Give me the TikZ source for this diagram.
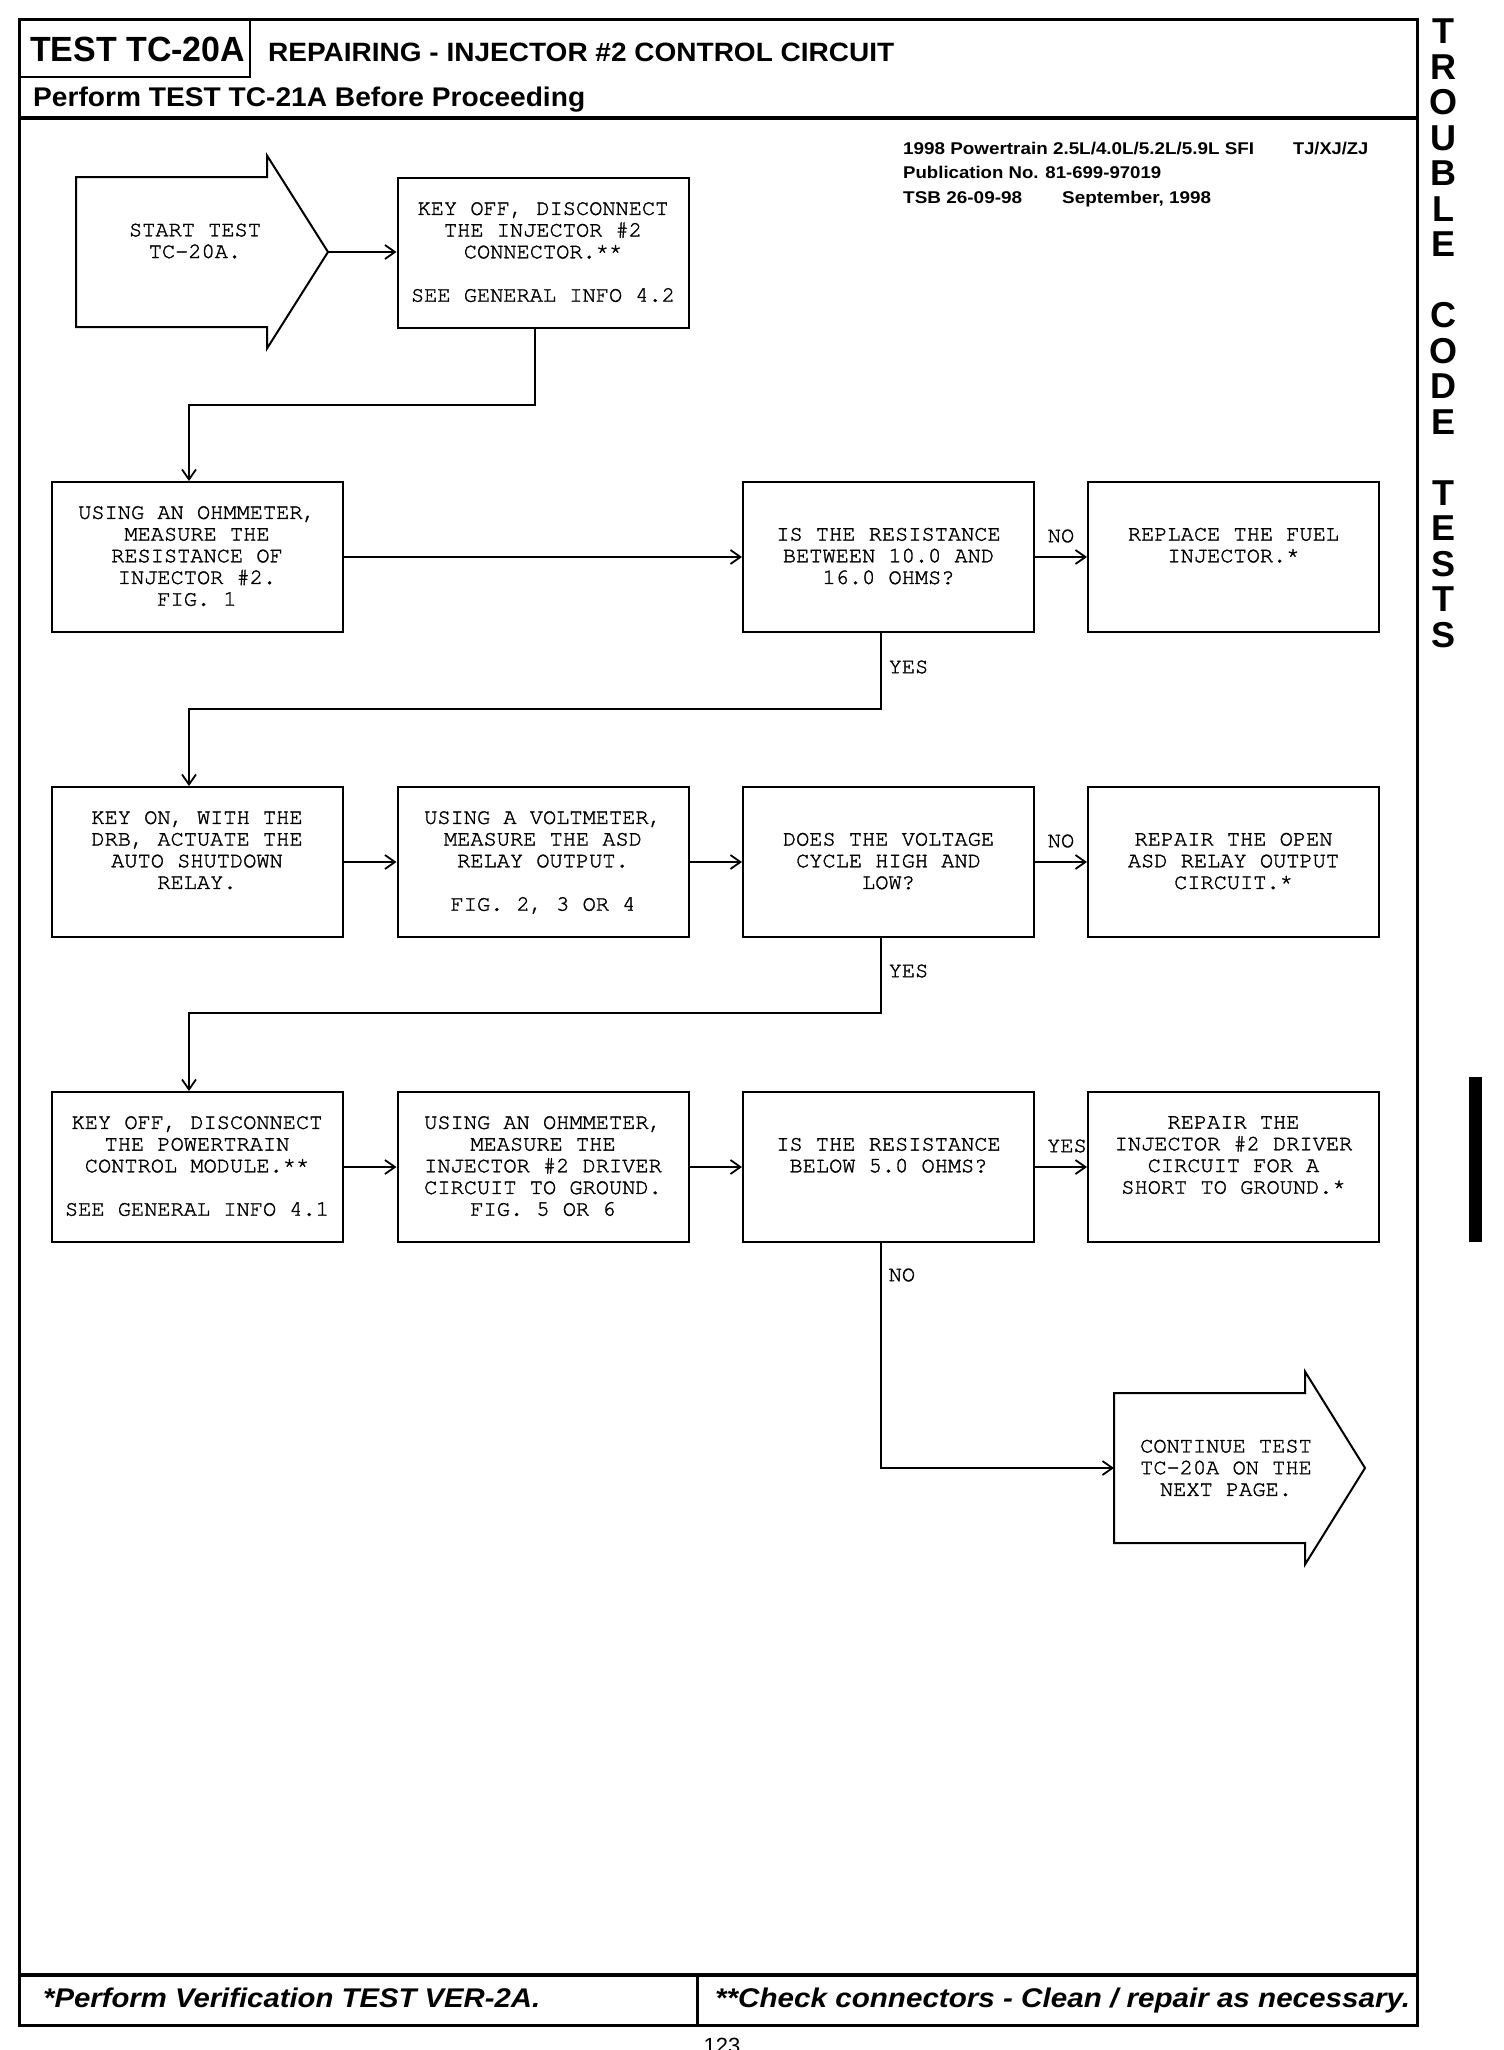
\documentclass[tikz,border=0pt]{standalone}
\usepackage{fontspec}
\usepackage{graphicx}
\setmainfont{Liberation Sans}
\newfontfamily\boxfont[FakeBold=1.5]{texgyrecursor-regular.otf}
\usetikzlibrary{arrows.meta,calc}
\newcommand{\fitw}[2]{\resizebox{#1}{\height}{#2}}
\begin{document}
\begin{tikzpicture}[x=1pt,y=-1pt,
  box/.style={draw, line width=2pt, minimum width=291pt, minimum height=150pt, inner sep=0pt, anchor=north west},
  txt/.style={font=\boxfont\fontsize{22}{21.7}\selectfont, align=center, inner sep=0pt},
  lbl/.style={font=\boxfont\fontsize{22}{21.7}\selectfont, inner sep=0pt},
  arr/.style={line width=1.8pt, -{Straight Barb[length=10pt,width=14pt]}},
  bigarrow/.style={draw, line width=2pt, line join=miter},
  hdr/.style={inner sep=0pt, anchor=base west},
  info/.style={inner sep=0pt, anchor=base west, font=\bfseries\fontsize{17}{17}\selectfont},
  vlet/.style={inner sep=0pt, font=\bfseries\fontsize{36}{36}\selectfont}
]
\useasboundingbox (0,0) rectangle (1504,2050);
\fill[white] (0,0) rectangle (1504,2050);

% page frame and header
\draw[line width=3pt] (19.5,20) rectangle (1417,2025);
\draw[line width=2.5pt] (19.5,77) -- (250,77) -- (250,20);
\draw[line width=4pt] (19.5,118) -- (1417,118);
\draw[line width=4pt] (19.5,1974.5) -- (1417,1974.5);
\draw[line width=2.5pt] (697.5,1974.5) -- (697.5,2025);

\node[hdr, font=\bfseries\fontsize{35}{35}\selectfont] (h1) at (30,61.7) {\fitw{215pt}{TEST TC-20A}};
\node[hdr, font=\bfseries\fontsize{26.5}{26.5}\selectfont] (h2) at (268,61.7) {\fitw{626pt}{REPAIRING - INJECTOR \#2 CONTROL CIRCUIT}};
\node[hdr, font=\bfseries\fontsize{27}{27}\selectfont] (h3) at (33,106) {\fitw{552pt}{Perform TEST TC-21A Before Proceeding}};

\node[info] (i1) at (903,154.5) {\fitw{351pt}{1998 Powertrain 2.5L/4.0L/5.2L/5.9L SFI}};
\node[info] (i2) at (1293,154.5) {\fitw{75pt}{TJ/XJ/ZJ}};
\node[info] (i3) at (903,178.5) {\fitw{258pt}{Publication No. 81-699-97019}};
\node[info] (i4) at (903,203) {\fitw{119pt}{TSB 26-09-98}};
\node[info] (i5) at (1062,203) {\fitw{149pt}{September, 1998}};

\node[hdr, font=\bfseries\itshape\fontsize{27}{27}\selectfont] (f1) at (43,2007) {\fitw{497pt}{*Perform Verification TEST VER-2A.}};
\node[hdr, font=\bfseries\itshape\fontsize{27}{27}\selectfont] (f2) at (715,2007) {\fitw{695pt}{**Check connectors - Clean / repair as necessary.}};
\node[inner sep=0pt, anchor=north, font=\fontsize{22}{22}\selectfont] (pg) at (722,2038) {123};

% side tab text
\foreach \l/\yy [count=\i] in {T/31,R/67,O/102.5,U/138,B/173.5,L/209,E/244.5,C/315.5,O/351,D/386.5,E/422,T/493,E/528.5,S/564,T/599.5,S/635}
  \node[vlet] (v\i) at (1443,\yy) {\l};
\fill (1469,1077) rectangle (1482,1242);

% start arrow
\draw[bigarrow] (76,177) -- (267,177) -- (267,155.5) -- (328,252) -- (267,348.5) -- (267,327) -- (76,327) -- cycle;
\coordinate (starttip) at (328,252);
\node[txt] (st) at (195,241) {START TEST\\TC-20A.};

% boxes
\node[box] (b1) at (396.5,177) {};
\node[box] (b2) at (50.5,481) {};
\node[box] (b3) at (742,481) {};
\node[box] (b4) at (1087,481) {};
\node[box] (b5) at (50.5,786) {};
\node[box] (b6) at (396.5,786) {};
\node[box] (b7) at (742,786) {};
\node[box] (b8) at (1087,786) {};
\node[box] (b9) at (50.5,1091) {};
\node[box] (b10) at (396.5,1091) {};
\node[box] (b11) at (742,1091) {};
\node[box] (b12) at (1087,1091) {};

\node[txt, anchor=north] (t1) at ([yshift=-25pt]b1.north) {KEY OFF, DISCONNECT\\THE INJECTOR \#2\\CONNECTOR.**\\[21.7pt]SEE GENERAL INFO 4.2};
\node[txt, anchor=north] (t2) at ([yshift=-25pt]b2.north) {USING AN OHMMETER,\\MEASURE THE\\RESISTANCE OF\\INJECTOR \#2.\\FIG. 1};
\node[txt, anchor=north] (t3) at ([yshift=-46.7pt]b3.north) {IS THE RESISTANCE\\BETWEEN 10.0 AND\\16.0 OHMS?};
\node[txt, anchor=north] (t4) at ([yshift=-46.7pt]b4.north) {REPLACE THE FUEL\\INJECTOR.*};
\node[txt, anchor=north] (t5) at ([yshift=-25pt]b5.north) {KEY ON, WITH THE\\DRB, ACTUATE THE\\AUTO SHUTDOWN\\RELAY.};
\node[txt, anchor=north] (t6) at ([yshift=-25pt]b6.north) {USING A VOLTMETER,\\MEASURE THE ASD\\RELAY OUTPUT.\\[21.7pt]FIG. 2, 3 OR 4};
\node[txt, anchor=north] (t7) at ([yshift=-46.7pt]b7.north) {DOES THE VOLTAGE\\CYCLE HIGH AND\\LOW?};
\node[txt, anchor=north] (t8) at ([yshift=-46.7pt]b8.north) {REPAIR THE OPEN\\ASD RELAY OUTPUT\\CIRCUIT.*};
\node[txt, anchor=north] (t9) at ([yshift=-25pt]b9.north) {KEY OFF, DISCONNECT\\THE POWERTRAIN\\CONTROL MODULE.**\\[21.7pt]SEE GENERAL INFO 4.1};
\node[txt, anchor=north] (t10) at ([yshift=-25pt]b10.north) {USING AN OHMMETER,\\MEASURE THE\\INJECTOR \#2 DRIVER\\CIRCUIT TO GROUND.\\FIG. 5 OR 6};
\node[txt, anchor=north] (t11) at ([yshift=-46.7pt]b11.north) {IS THE RESISTANCE\\BELOW 5.0 OHMS?};
\node[txt, anchor=north] (t12) at ([yshift=-25pt]b12.north) {REPAIR THE\\INJECTOR \#2 DRIVER\\CIRCUIT FOR A\\SHORT TO GROUND.*};

% end arrow
\draw[bigarrow] (1114,1393) -- (1305,1393) -- (1305,1371.5) -- (1365,1468) -- (1305,1564.5) -- (1305,1543) -- (1114,1543) -- cycle;
\coordinate (endin) at (1114,1468);
\node[txt] (et) at (1226,1468) {CONTINUE TEST\\TC-20A ON THE\\NEXT PAGE.};

% connectors
\draw[arr] (starttip) -- (starttip -| b1.west);
\draw[arr] ([xshift=-8pt]b1.south) -- ++(0,76) -| ([xshift=-8pt]b2.north);
\draw[arr] (b2) -- (b3);
\draw[arr] (b3) -- (b4);
\draw[arr] ([xshift=-7.5pt]b3.south) -- ++(0,76) -| ([xshift=-8pt]b5.north);
\draw[arr] (b5) -- (b6);
\draw[arr] (b6) -- (b7);
\draw[arr] (b7) -- (b8);
\draw[arr] ([xshift=-7.5pt]b7.south) -- ++(0,75) -| ([xshift=-8pt]b9.north);
\draw[arr] (b9) -- (b10);
\draw[arr] (b10) -- (b11);
\draw[arr] (b11) -- (b12);
\draw[arr] ([xshift=-7.5pt]b11.south) |- (endin);

% branch labels
\node[lbl] (no1) at ($(b3.east)!0.5!(b4.west)+(0,-21)$) {NO};
\node[lbl] (no2) at ($(b7.east)!0.5!(b8.west)+(0,-21)$) {NO};
\node[lbl] (yes3) at ($(b11.east)!0.5!(b12.west)+(6,-21)$) {YES};
\node[lbl, anchor=west] (yes1) at ($(b3.south)+(0,34)$) {YES};
\node[lbl, anchor=west] (yes2) at ($(b7.south)+(0,33)$) {YES};
\node[lbl, anchor=west] (no3) at ($(b11.south)+(0,32)$) {NO};
\end{tikzpicture}
\end{document}
